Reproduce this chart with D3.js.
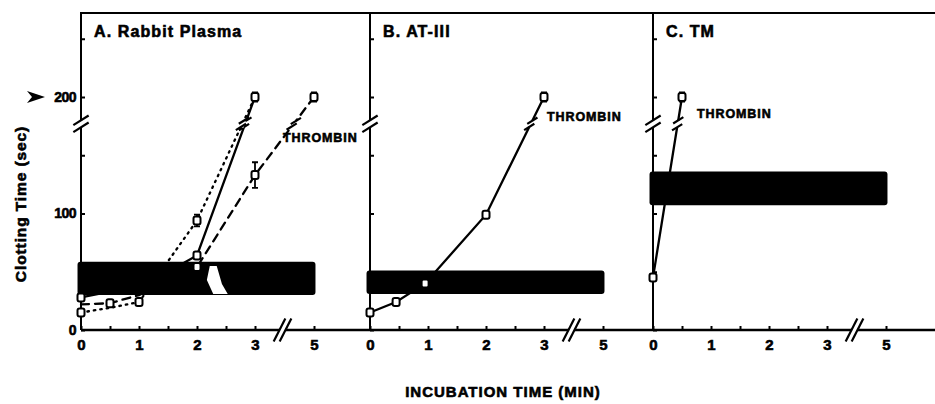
<!DOCTYPE html>
<html>
<head>
<meta charset="utf-8">
<script src="https://cdn.jsdelivr.net/npm/d3@7"></script>
<style>
body { margin: 0; background: #fff; }
text { font-family: "Liberation Sans", Arial, sans-serif; font-weight: bold; fill: #000; stroke: #000; stroke-width: 0.6px; }
</style>
</head>
<body>
<svg id="chart" width="935" height="404"></svg>
<script>
// ---- data ----
const panelNames = ["A.  Rabbit Plasma", "B.  AT-III", "C.  TM"]
const xTickValues = [0, 0.5, 1, 1.5, 2, 2.5, 3, 5]
const xTickLabels = ["0", "", "1", "", "2", "", "3", "5"]
const yTickValues = [0, 50, 100, 150, 200, 250]
const yTickLabels = ["0", "", "100", "", "200", ""]

// A. rabbit plasma
const aSolidX = [0, 0.5, 1, 2, 3]
const aSolidY = [28, 33, 36, 64, 200]
const aSolidErr = [0, 0, 0, 3, 4]
const aSolidMark = [1, 0, 0, 1, 1]

const aDotX = [0, 0.5, 1, 2, 3]
const aDotY = [15, 19, 24, 94, 200]
const aDotErr = [0, 0, 0, 5, 0]
const aDotMark = [1, 0, 1, 1, 0]

const aDashX = [0, 0.5, 1, 2, 3, 5]
const aDashY = [22, 23, 30, 54, 133, 200]
const aDashErr = [0, 2, 0, 0, 11, 4]
const aDashMark = [0, 1, 0, 1, 1, 1]

// B. AT-III
const bX = [0, 0.45, 0.95, 2, 3]
const bY = [15, 24, 40, 99, 200]
const bErr = [3, 2, 0, 3, 4]
const bMark = [1, 1, 1, 1, 1]

// C. TM
const cX = [0, 0.5]
const cY = [45, 200]
const cErr = [0, 4]
const cMark = [1, 1]

// heavy control bands (low / high edge, sec)
const bandLow = [30, 31, 107]
const bandHigh = [58.5, 51, 136]

// white notch in band A
const notchAX = [2.22, 2.17, 2.28, 2.53, 2.43, 2.34]
const notchAY = [55, 43, 31, 31, 39.5, 55]

const breakValue = 177   // where the y axis / lines are broken
const thrombinY = [165, 183, 186]

// ---- layout ----
const svg = d3.select("#chart")
const panelLeft = [81, 370, 653]
const panelRight = [370, 653, 935]
const plotTop = 13

const x = d3.scaleLinear().domain([0, 3, 5]).range([0, 174, 233])
const y = d3.scaleLinear().domain([0, 200]).range([330, 97])

const mkSeries = (xs, ys, errs, marks) =>
  xs.map((v, i) => ({x: v, y: ys[i], err: errs[i], mark: marks[i]}))
const series = [
  [
    {pts: mkSeries(aSolidX, aSolidY, aSolidErr, aSolidMark), dash: null},
    {pts: mkSeries(aDotX, aDotY, aDotErr, aDotMark), dash: "1.5,5"},
    {pts: mkSeries(aDashX, aDashY, aDashErr, aDashMark), dash: "8,6"}
  ],
  [{pts: mkSeries(bX, bY, bErr, bMark), dash: null}],
  [{pts: mkSeries(cX, cY, cErr, cMark), dash: null}]
]

// frame top line
svg.append("line")
   .attr("x1", panelLeft[0] - 1).attr("x2", 935)
   .attr("y1", plotTop).attr("y2", plotTop)
   .attr("stroke", "#000").attr("stroke-width", 2)

function slashes(g, px, py, ux, uy, sx, sy, half, gap) {
  g.append("line")
   .attr("x1", px - ux * gap).attr("y1", py - uy * gap)
   .attr("x2", px + ux * gap).attr("y2", py + uy * gap)
   .attr("stroke", "#fff").attr("stroke-width", 5)
  for (const k of [-gap, gap]) {
    g.append("line")
     .attr("x1", px + ux * k - sx * half).attr("y1", py + uy * k - sy * half)
     .attr("x2", px + ux * k + sx * half).attr("y2", py + uy * k + sy * half)
     .attr("stroke", "#000").attr("stroke-width", 2.2)
  }
}

panelLeft.forEach((left, p) => {
  const g = svg.append("g").attr("transform", `translate(${left},0)`)

  // x axis line
  g.append("line")
   .attr("x1", 0).attr("x2", panelRight[p] - left)
   .attr("y1", y(0)).attr("y2", y(0))
   .attr("stroke", "#000").attr("stroke-width", 2.5)

  const xAxis = d3.axisBottom(x)
                  .tickValues(xTickValues)
                  .tickFormat((d, i) => xTickLabels[i])
                  .tickSizeInner(-4).tickSizeOuter(0).tickPadding(6)
  const gx = g.append("g").attr("transform", `translate(0,${y(0)})`).call(xAxis)
  gx.select(".domain").remove()
  gx.selectAll(".tick line").attr("stroke-width", 2)
  gx.selectAll("text").attr("font-size", 15).attr("dy", "0.9em")
    .attr("font-family", "Liberation Sans, Arial, sans-serif").attr("font-weight", "bold")

  // left axis line
  g.append("line")
   .attr("x1", 0).attr("x2", 0)
   .attr("y1", plotTop).attr("y2", y(0))
   .attr("stroke", "#000").attr("stroke-width", 2)

  const yAxis = d3.axisLeft(y)
                  .tickValues(yTickValues)
                  .tickFormat((d, i) => p == 0 ? yTickLabels[i] : "")
                  .tickSizeInner(-4).tickSizeOuter(0).tickPadding(5)
  const gy = g.append("g").call(yAxis)
  gy.select(".domain").remove()
  gy.selectAll(".tick line").attr("stroke-width", 2)
  gy.selectAll("text").attr("font-size", 14).attr("letter-spacing", -0.5)
    .attr("font-family", "Liberation Sans, Arial, sans-serif").attr("font-weight", "bold")

  // axis breaks
  slashes(g, 0, y(breakValue), 0, 1, 0.85, -0.53, 9, 3.5)
  slashes(g, x(4) - 2, y(0), 1, 0, 0.45, -0.89, 13, 3)

  // panel title
  g.append("text")
   .attr("x", 13).attr("y", 37)
   .attr("font-size", 16).attr("letter-spacing", 1.1)
   .text(panelNames[p])

  // series lines
  const line = d3.line().x(d => x(d.x)).y(d => y(d.y))
  series[p].forEach(s => {
    g.append("path")
     .datum(s.pts)
     .attr("d", line)
     .attr("fill", "none")
     .attr("stroke", "#000")
     .attr("stroke-width", 2.3)
     .attr("stroke-linecap", "round")
     .attr("stroke-dasharray", s.dash)
  })

  // control band
  g.append("rect")
   .attr("x", x(-0.06)).attr("width", x(5.05) - x(-0.06))
   .attr("y", y(bandHigh[p])).attr("height", y(bandLow[p]) - y(bandHigh[p]))
   .attr("rx", 3).attr("fill", "#000")

  if (p == 0) {
    const notch = notchAX.map((v, i) => [x(v), y(notchAY[i])])
    g.append("path")
     .attr("d", d3.line()(notch) + "Z")
     .attr("fill", "#fff")
  }

  // breaks on the series lines
  series[p].forEach(s => {
    for (let i = 1; i < s.pts.length; i++) {
      const a = s.pts[i - 1], b = s.pts[i]
      if (a.y < breakValue && b.y >= breakValue) {
        const t = (breakValue - a.y) / (b.y - a.y)
        const ax = x(a.x), ay = y(a.y), bx = x(b.x), by = y(b.y)
        const px = ax + t * (bx - ax), py = ay + t * (by - ay)
        const len = Math.hypot(bx - ax, by - ay)
        slashes(g, px, py, (bx - ax) / len, (by - ay) / len, 0.85, -0.53, 6, 3.5)
      }
    }
  })

  // error bars and markers
  series[p].forEach(s => {
    const pts = s.pts.filter(d => d.mark)
    g.selectAll(null).data(pts.filter(d => d.err > 0)).enter()
     .append("path")
     .attr("d", d => `M${x(d.x)},${y(d.y + d.err)}V${y(d.y - d.err)}` +
                     `M${x(d.x) - 3},${y(d.y + d.err)}h6M${x(d.x) - 3},${y(d.y - d.err)}h6`)
     .attr("stroke", "#000").attr("stroke-width", 1.8).attr("fill", "none")
    g.selectAll(null).data(pts).enter()
     .append("rect")
     .attr("x", d => x(d.x) - 3.5).attr("y", d => y(d.y) - 4)
     .attr("width", 7).attr("height", 8).attr("rx", 2)
     .attr("fill", "#fff").attr("stroke", "#000").attr("stroke-width", 2)
  })

  // thrombin label
  g.append("text")
   .attr("x", p == 0 ? 202 : (p == 1 ? 177 : 44))
   .attr("y", y(thrombinY[p]))
   .attr("dy", "0.35em")
   .attr("font-size", 12.5).attr("letter-spacing", 0.9)
   .text("THROMBIN")
})

// arrow marking the >200 level
svg.append("path")
   .attr("d", `M27,${y(200) - 6}L45,${y(200)}L27,${y(200) + 6}L32,${y(200)}Z`)
   .attr("fill", "#000")

// axis titles
svg.append("text")
   .attr("transform", "translate(26,204) rotate(-90)")
   .attr("text-anchor", "middle")
   .attr("font-size", 15.5).attr("letter-spacing", 0.9)
   .text("Clotting Time (sec)")

svg.append("text")
   .attr("x", 503).attr("y", 397)
   .attr("text-anchor", "middle")
   .attr("font-size", 15).attr("letter-spacing", 1)
   .text("INCUBATION TIME (MIN)")
</script>
</body>
</html>
